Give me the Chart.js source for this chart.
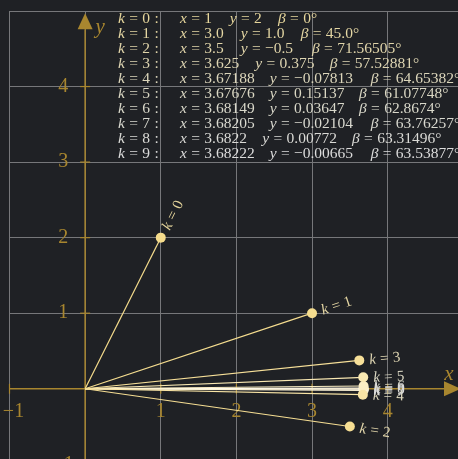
<!DOCTYPE html>
<html>
<head>
<meta charset="utf-8">
<script src="https://cdn.jsdelivr.net/npm/chart.js@4"></script>
<style>
  html, body { margin: 0; padding: 0; background: #1f2125; overflow: hidden; }
  #wrap { width: 458px; height: 459px; }
  canvas { display: block; }
</style>
</head>
<body>
<div id="wrap"><canvas id="chart" width="458" height="459"></canvas></div>
<script>
// 迭代點資料
const ks = [0, 1, 2, 3, 4, 5, 6, 7, 8, 9];
const xs = [1, 3.0, 3.5, 3.625, 3.67188, 3.67676, 3.68149, 3.68205, 3.6822, 3.68222];
const ys = [2, 1.0, -0.5, 0.375, -0.07813, 0.15137, 0.03647, -0.02104, 0.00772, -0.00665];
// 表格文字
const xText = ['1', '3.0', '3.5', '3.625', '3.67188', '3.67676', '3.68149', '3.68205', '3.6822', '3.68222'];
const yText = ['2', '1.0', '−0.5', '0.375', '−0.07813', '0.15137', '0.03647', '−0.02104', '0.00772', '−0.00665'];
const betaText = ['0°', '45.0°', '71.56505°', '57.52881°', '64.65382°', '61.07748°', '62.8674°', '63.76257°', '63.31496°', '63.53877°'];
// 軸刻度
const xTicks = [-1, 1, 2, 3, 4];
const yTicks = [-1, 1, 2, 3, 4];

// 樣式
const GOLD = '#a8862f';
const GRID = '#76777a';
const BG = '#1f2125';
const pointColors = ['#f5dc8c', '#f5dd8f', '#f6de93', '#f7e099', '#f8e4a5', '#f9e8b2', '#fbeec4', '#fcf3d6', '#fef9ea', '#ffffff'];
const textColors = ['#e6d69c', '#e4d6a3', '#e1d5aa', '#ded5b2', '#dcd6bb', '#dad7c3', '#d9d8ca', '#d9d9d0', '#dadad6', '#dcdcdc'];
const rowY0 = 18.5, rowStep = 15.1;
const colK = 118, colX = 180;
const colY = [229.7, 240.7, 240.7, 255.3, 269.7, 269.7, 269.7, 269.7, 262.3, 269.7];
const colB = [278, 300.7, 312, 329.7, 370.7, 359, 359, 370.7, 352, 370.7];

// 畫數學式（斜體變數 + 關係符號間距）
function drawMath(ctx, s, x, y, size) {
  let cx = x;
  for (const ch of s) {
    if (ch === ' ') continue;
    if (ch === '=' || ch === ':') {
      cx += size * 0.28;
      ctx.font = `${size}px "Liberation Serif"`;
      ctx.fillText(ch, cx, y);
      cx += ctx.measureText(ch).width + size * 0.28;
      continue;
    }
    const italic = /[a-zβ]/.test(ch);
    ctx.font = `${italic ? 'italic ' : ''}${size}px "Liberation Serif"`;
    ctx.fillText(ch, cx, y);
    cx += ctx.measureText(ch).width;
  }
  return cx;
}

const deco = {
  id: 'deco',
  beforeDraw(chart) {
    const ctx = chart.ctx;
    ctx.save();
    ctx.fillStyle = BG;
    ctx.fillRect(0, 0, chart.width, chart.height);
    ctx.restore();
  },
  beforeDatasetsDraw(chart) {
    const ctx = chart.ctx;
    const sx = chart.scales.x, sy = chart.scales.y;
    const ox = sx.getPixelForValue(0), oy = sy.getPixelForValue(0);
    ctx.save();
    ctx.strokeStyle = GOLD;
    ctx.fillStyle = GOLD;
    ctx.lineWidth = 1.5;
    // x 軸
    const xl = sx.getPixelForValue(-1);
    const xTip = sx.getPixelForValue(4.97);
    ctx.beginPath();
    ctx.moveTo(xl, oy);
    ctx.lineTo(xTip - 16, oy);
    ctx.stroke();
    ctx.beginPath();
    ctx.moveTo(xTip, oy);
    ctx.lineTo(xTip - 17, oy - 7.5);
    ctx.lineTo(xTip - 17, oy + 7.5);
    ctx.closePath();
    ctx.fill();
    // y 軸
    const yb = sy.getPixelForValue(-1);
    const yTip = sy.getPixelForValue(4.97);
    ctx.beginPath();
    ctx.moveTo(ox, yb);
    ctx.lineTo(ox, yTip + 16);
    ctx.stroke();
    ctx.beginPath();
    ctx.moveTo(ox, yTip);
    ctx.lineTo(ox - 7.5, yTip + 16);
    ctx.lineTo(ox + 7.5, yTip + 16);
    ctx.closePath();
    ctx.fill();
    // 刻度與標籤
    ctx.lineWidth = 1.2;
    ctx.font = '20px "Liberation Serif"';
    ctx.textAlign = 'center';
    ctx.textBaseline = 'middle';
    xTicks.forEach(v => {
      const px = sx.getPixelForValue(v);
      ctx.beginPath();
      ctx.moveTo(px, oy - 5);
      ctx.lineTo(px, oy + 5);
      ctx.stroke();
      ctx.fillText(v < 0 ? '−' + (-v) : String(v), v < 0 ? px + 4 : px, oy + 23);
    });
    yTicks.forEach(v => {
      const py = sy.getPixelForValue(v);
      ctx.beginPath();
      ctx.moveTo(ox - 5, py);
      ctx.lineTo(ox + 5, py);
      ctx.stroke();
      ctx.fillText(v < 0 ? '−' + (-v) : String(v), ox - 22, py);
    });
    // 軸名稱
    ctx.font = 'italic 21px "Liberation Serif"';
    ctx.fillText('y', ox + 15, yTip + 14);
    ctx.fillText('x', xTip - 12, oy - 14);
    ctx.restore();
  },
  afterDatasetsDraw(chart) {
    const ctx = chart.ctx;
    const sx = chart.scales.x, sy = chart.scales.y;
    const ox = sx.getPixelForValue(0), oy = sy.getPixelForValue(0);
    ctx.save();
    ctx.textAlign = 'left';
    ctx.textBaseline = 'middle';
    // 點標籤
    ks.forEach((k, i) => {
      const px = sx.getPixelForValue(xs[i]), py = sy.getPixelForValue(ys[i]);
      const ang = Math.atan2(py - oy, px - ox);
      ctx.save();
      ctx.translate(px, py);
      ctx.rotate(ang);
      ctx.fillStyle = textColors[i];
      drawMath(ctx, `k = ${k}`, 10, 1, 15);
      ctx.restore();
    });
    // 表格
    ks.forEach((k, i) => {
      const y = rowY0 + i * rowStep;
      ctx.fillStyle = textColors[i];
      drawMath(ctx, `k = ${k} :`, colK, y, 15.5);
      drawMath(ctx, `x = ${xText[i]}`, colX, y, 15.5);
      drawMath(ctx, `y = ${yText[i]}`, colY[i], y, 15.5);
      drawMath(ctx, `β = ${betaText[i]}`, colB[i], y, 15.5);
    });
    ctx.restore();
  }
};

const datasets = ks.map((k, i) => ({
  label: 'k = ' + k,
  data: [{ x: 0, y: 0 }, { x: xs[i], y: ys[i] }],
  showLine: true,
  borderColor: pointColors[i],
  borderWidth: 1.2,
  backgroundColor: pointColors[i],
  pointRadius: [0, 5],
  pointBorderWidth: 0,
  pointHoverRadius: [0, 5]
}));

new Chart(document.getElementById('chart'), {
  type: 'scatter',
  data: { datasets },
  options: {
    responsive: false,
    animation: false,
    devicePixelRatio: 1,
    layout: { autoPadding: false, padding: { left: 9.5, top: 11, right: 0, bottom: 0 } },
    plugins: { legend: { display: false }, tooltip: { enabled: false } },
    scales: {
      x: {
        type: 'linear', min: -1, max: 4.93,
        ticks: { display: false, stepSize: 1, includeBounds: false },
        grid: { color: GRID, drawTicks: false, lineWidth: 1 },
        border: { display: false }
      },
      y: {
        type: 'linear', min: -0.93, max: 5,
        ticks: { display: false, stepSize: 1, includeBounds: false },
        grid: { color: GRID, drawTicks: false, lineWidth: 1 },
        border: { display: false }
      }
    }
  },
  plugins: [deco]
});
</script>
</body>
</html>
